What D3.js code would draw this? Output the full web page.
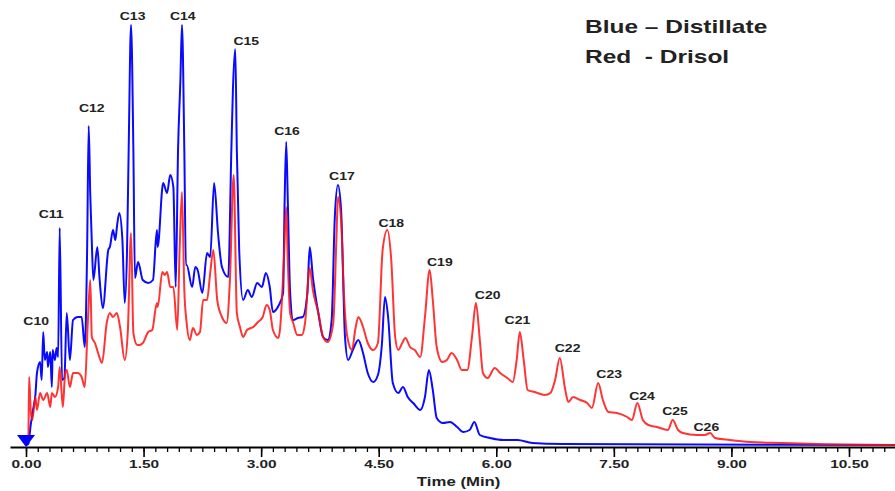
<!DOCTYPE html>
<html>
<head>
<meta charset="utf-8">
<script src="https://cdn.jsdelivr.net/npm/d3@7"></script>
<style>
  html, body { margin: 0; padding: 0; background: #fff; }
  svg { display: block; }
  text { font-family: "Liberation Sans", Arial, sans-serif; font-weight: bold; fill: #222; }
</style>
</head>
<body>
<svg id="chart" width="895" height="491"></svg>
<script>
// Retention time (min) and detector response for the distillate trace
const blueTime = [0.00,0.03,0.06,0.09,0.12,0.14,0.18,0.20,0.22,0.24,0.27,0.28,0.31,0.33,0.34,0.37,0.39,0.41,0.43,0.46,0.49,0.52,0.56,0.60,0.66,0.71,0.75,0.78,0.80,0.82,0.84,0.86,0.91,0.94,0.98,1.05,1.07,1.11,1.14,1.16,1.19,1.23,1.26,1.29,1.31,1.34,1.37,1.39,1.43,1.49,1.56,1.62,1.67,1.68,1.75,1.80,1.84,1.88,1.91,1.94,1.97,1.99,2.02,2.04,2.05,2.12,2.16,2.19,2.25,2.31,2.35,2.40,2.45,2.50,2.58,2.62,2.64,2.67,2.69,2.72,2.77,2.83,2.88,2.95,3.01,3.06,3.11,3.15,3.22,3.28,3.30,3.32,3.34,3.37,3.41,3.47,3.53,3.59,3.62,3.66,3.73,3.79,3.85,3.90,3.94,3.98,4.02,4.07,4.11,4.17,4.24,4.30,4.36,4.43,4.49,4.54,4.58,4.62,4.68,4.75,4.81,4.87,4.94,5.03,5.09,5.14,5.19,5.24,5.32,5.41,5.50,5.58,5.66,5.72,5.79,5.92,6.09,6.27,6.46,6.84,11.09];
const blueValue = [0,1,20,35,50,72,83,65,113,85,93,78,93,58,95,85,97,88,217,65,67,132,85,125,128,128,98,195,319,250,202,165,198,165,137,195,198,215,205,218,232,205,142,198,295,420,295,167,183,165,162,165,215,198,262,252,270,258,158,295,365,420,295,180,180,158,178,175,152,192,188,262,212,178,168,295,355,396,295,195,145,155,148,162,158,172,158,133,139,152,245,303,245,152,125,127,128,152,198,168,132,108,105,125,228,260,235,108,85,95,105,92,72,63,70,100,148,128,62,52,58,48,42,35,48,75,55,27,22,23,18,13,15,23,10,7,5,5,2,1,0];

// Retention time (min) and detector response for the Drisol trace
const redTime = [0.00,0.03,0.04,0.06,0.08,0.12,0.14,0.18,0.22,0.27,0.31,0.33,0.37,0.41,0.43,0.47,0.50,0.52,0.56,0.60,0.66,0.71,0.75,0.79,0.82,0.84,0.88,0.92,0.97,1.03,1.07,1.11,1.16,1.20,1.26,1.30,1.34,1.37,1.42,1.45,1.49,1.56,1.61,1.67,1.68,1.74,1.77,1.80,1.84,1.88,1.93,1.96,1.99,2.02,2.05,2.09,2.13,2.18,2.22,2.26,2.31,2.35,2.39,2.44,2.50,2.56,2.60,2.65,2.69,2.73,2.77,2.82,2.90,2.96,3.02,3.07,3.11,3.15,3.22,3.24,3.29,3.32,3.34,3.37,3.41,3.46,3.52,3.56,3.62,3.66,3.73,3.79,3.85,3.92,3.96,3.98,4.02,4.06,4.10,4.16,4.20,4.24,4.30,4.36,4.43,4.49,4.55,4.61,4.66,4.71,4.75,4.80,4.84,4.90,4.96,5.03,5.09,5.15,5.19,5.24,5.31,5.37,5.43,5.50,5.56,5.63,5.69,5.74,5.79,5.83,5.89,5.98,6.05,6.14,6.21,6.26,6.30,6.35,6.40,6.49,6.62,6.69,6.75,6.81,6.88,6.92,6.98,7.07,7.16,7.22,7.30,7.36,7.43,7.54,7.67,7.73,7.80,7.87,7.94,8.05,8.19,8.25,8.32,8.38,8.56,8.66,8.73,8.79,8.98,9.24,9.66,10.09,11.09];
const redValue = [0,5,68,35,25,48,35,52,45,52,38,52,48,58,78,38,72,75,58,72,72,68,58,125,165,108,102,92,82,122,132,128,132,118,85,115,212,112,100,100,102,113,115,142,138,173,170,173,158,158,115,195,253,155,122,105,117,110,113,145,145,172,195,145,128,122,162,270,132,118,108,115,118,123,128,140,135,115,107,115,185,238,185,132,122,110,110,122,177,155,132,108,103,122,205,248,225,145,108,95,115,128,118,102,95,102,195,215,185,108,95,102,107,98,95,88,128,175,145,98,83,85,92,85,75,75,108,142,105,72,67,77,72,67,63,85,113,85,55,53,50,52,65,87,55,43,48,45,42,37,62,45,33,32,28,25,42,25,20,18,15,25,15,12,10,10,12,7,5,3,2,1,0];

// n-alkane peak labels: carbon number, retention time and height of the label
const peakNames = ["C10","C11","C12","C13","C14","C15","C16","C17","C18","C19","C20","C21","C22","C23","C24","C25","C26"];
const peakLabelTime = [0.13,0.32,0.84,1.36,2.00,2.81,3.33,4.03,4.66,5.28,5.89,6.27,6.91,7.44,7.86,8.28,8.68];
const peakLabelLevel = [120,227,333,425,425,400,310,265,218,179,146,121,93,67,45,30,14];

// Time axis
const majorTicks = [0, 1.5, 3, 4.5, 6, 7.5, 9, 10.5];
const minorTicks = d3.range(0, 11.01, 0.15);
const legendLines = ["Blue \u2013 Distillate", "Red  - Drisol"];

const svg = d3.select("#chart");
const W = 895;
const textStretch = 1.4;

const x = d3.scaleLinear().domain([-0.204, 11.087]).range([10, W]);
const y = d3.scaleLinear().domain([0, 425]).range([445, 20]);
const axisY = 447;

// Axis: minor ticks, then labelled major ticks
const minorAxis = d3.axisBottom(x).tickValues(minorTicks).tickSize(5).tickSizeOuter(0).tickFormat("");
const gMinor = svg.append("g").attr("transform", `translate(0,${axisY})`).call(minorAxis);
gMinor.select(".domain").attr("stroke", "#000").attr("stroke-width", 2);
gMinor.selectAll(".tick line").attr("stroke", "#000").attr("stroke-width", 1.3);

const majorAxis = d3.axisBottom(x).tickValues(majorTicks).tickSize(10).tickPadding(3)
  .tickSizeOuter(0).tickFormat(d3.format(".2f"));
const gMajor = svg.append("g").attr("transform", `translate(0,${axisY})`).call(majorAxis);
gMajor.select(".domain").remove();
gMajor.selectAll(".tick line").attr("stroke", "#000").attr("stroke-width", 1.6);
gMajor.selectAll(".tick text")
  .attr("font-family", "Liberation Sans, Arial, sans-serif")
  .attr("font-weight", "bold")
  .attr("font-size", 11)
  .attr("fill", "#222")
  .attr("transform", `scale(${textStretch},1)`);

svg.append("text")
  .attr("text-anchor", "middle")
  .attr("font-size", 12)
  .attr("transform", `translate(${(x(5.52))},486) scale(${textStretch},1)`)
  .text("Time (Min)");

// Traces
const line = d3.line().curve(d3.curveMonotoneX);
const bluePts = blueTime.map((t, i) => [x(t), y(blueValue[i])]);
const redPts = redTime.map((t, i) => [x(t), y(redValue[i])]);

svg.append("path")
  .attr("d", line(bluePts))
  .attr("fill", "none")
  .attr("stroke", "#0a0aff")
  .attr("stroke-width", 2)
  .attr("stroke-linejoin", "round");

svg.append("path")
  .attr("d", line(redPts))
  .attr("fill", "none")
  .attr("stroke", "#ff1010")
  .attr("stroke-opacity", 0.85)
  .attr("stroke-width", 2)
  .attr("stroke-linejoin", "round");

// Injection marker at time zero
const tx = x(0), ty = y(0) + 2;
svg.append("path")
  .attr("d", `M${tx - 9},${ty - 12}L${tx + 9},${ty - 12}L${tx},${ty}Z`)
  .attr("fill", "#0000ff");

// Peak labels
svg.selectAll(".peak-label")
  .data(peakNames)
  .join("text")
  .attr("class", "peak-label")
  .attr("text-anchor", "middle")
  .attr("font-size", 10)
  .attr("transform", (d, i) => `translate(${x(peakLabelTime[i])},${y(peakLabelLevel[i])}) scale(${textStretch},1)`)
  .text(d => d);

// Legend
svg.selectAll(".legend")
  .data(legendLines)
  .join("text")
  .attr("class", "legend")
  .attr("font-size", 17.5)
  .style("white-space", "pre")
  .attr("transform", (d, i) => `translate(585,${33 + i * 30}) scale(${textStretch},1)`)
  .text(d => d);
</script>
</body>
</html>
